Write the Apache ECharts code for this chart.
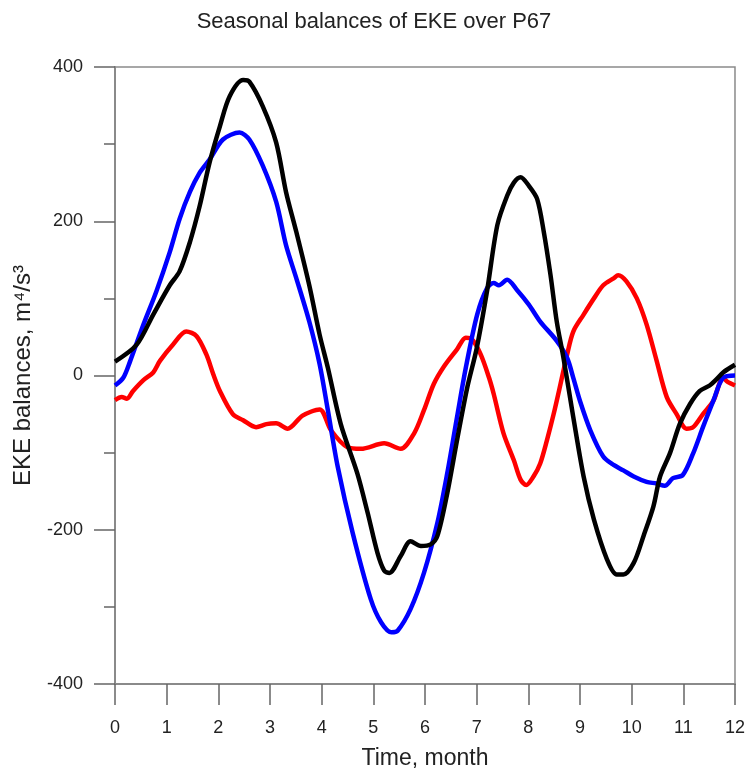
<!DOCTYPE html>
<html>
<head>
<meta charset="utf-8">
<script src="https://cdn.jsdelivr.net/npm/echarts@6/dist/echarts.min.js"></script>
<style>html,body{margin:0;padding:0;background:#fff;}#c{width:748px;height:775px;}</style>
</head>
<body>
<div id="c"></div>
<script>
// Tick values
const xTicks = [0,1,2,3,4,5,6,7,8,9,10,11,12];
const yTicks = [-400,-200,0,200,400];

// Black series
const blackX = [0,0.42,0.74,1.06,1.25,1.45,1.64,1.83,2.03,2.22,2.48,2.60,2.86,3.12,3.31,3.51,3.76,3.96,4.12,4.37,4.69,4.89,5.08,5.21,5.31,5.53,5.72,5.92,6.11,6.24,6.43,6.62,6.82,7.00,7.20,7.40,7.59,7.72,7.85,8.01,8.17,8.30,8.43,8.55,8.68,8.87,9.07,9.27,9.52,9.71,9.84,10.04,10.23,10.42,10.55,10.74,10.93,11.13,11.32,11.51,11.64,11.77,12];
const blackY = [18,40,79,117,135,173,220,276,323,362,383,381,349,302,238,186,117,53,10,-63,-127,-178,-230,-253,-256,-234,-215,-221,-219,-208,-153,-84,-15,35,109,195,233,250,257,246,229,186,130,70,23,-54,-131,-187,-238,-258,-258,-243,-208,-170,-131,-101,-63,-37,-20,-13,-5,4,14];

// Blue series
const blueX = [0,0.16,0.29,0.55,0.80,1.06,1.25,1.45,1.64,1.83,2.09,2.41,2.60,2.86,3.12,3.31,3.51,3.76,3.96,4.12,4.31,4.60,4.95,5.15,5.35,5.47,5.72,5.98,6.24,6.43,6.62,6.79,7.01,7.20,7.33,7.43,7.59,7.78,8.01,8.23,8.55,8.75,8.87,9.00,9.20,9.45,9.65,9.84,10.04,10.29,10.48,10.64,10.80,10.99,11.19,11.38,11.58,11.77,12];
const blueY = [-13,-3,18,66,109,160,203,238,263,280,306,315,306,272,225,169,126,70,15,-45,-118,-204,-290,-320,-333,-331,-303,-256,-191,-127,-54,10,79,113,120,117,124,111,92,70,45,23,-3,-33,-71,-105,-116,-123,-131,-138,-140,-143,-133,-129,-101,-67,-33,-3,0];

// Red series
const redX = [0,0.13,0.23,0.35,0.55,0.74,0.87,1.12,1.38,1.58,1.77,1.90,2.03,2.28,2.48,2.73,2.93,3.12,3.34,3.63,3.96,4.18,4.50,4.76,5.21,5.53,5.79,5.98,6.17,6.37,6.62,6.79,6.91,7.08,7.24,7.33,7.52,7.72,7.85,7.96,8.10,8.23,8.36,8.49,8.62,8.75,8.87,9.07,9.27,9.45,9.65,9.74,9.90,10.10,10.29,10.48,10.68,10.87,11.06,11.19,11.38,11.58,11.77,11.85,12];
const redY = [-32,-28,-30,-20,-6,4,19,40,57,51,27,2,-20,-50,-58,-67,-63,-62,-69,-52,-44,-71,-93,-95,-88,-95,-75,-45,-11,12,34,49,47,27,-3,-24,-75,-110,-135,-142,-131,-114,-84,-50,-12,27,57,79,100,117,126,130,122,100,66,20,-28,-50,-69,-67,-50,-33,-3,-8,-13];

const pairs = (xs, ys) => xs.map((x, i) => [x, ys[i]]);

const axisCol = '#8a8a8a';
const txtCol = '#222';
const font = 'Liberation Sans, Arial, sans-serif';

const chart = echarts.init(document.getElementById('c'), null, {renderer: 'canvas'});
chart.setOption({
  animation: false,
  backgroundColor: '#fff',
  title: {
    text: 'Seasonal balances of EKE over P67',
    left: 'center', top: 6,
    textStyle: {fontFamily: font, fontSize: 22, fontWeight: 'normal', color: txtCol}
  },
  grid: {
    left: 115, right: 11, top: 67, bottom: 86,
    show: true, borderColor: axisCol, borderWidth: 1.5, backgroundColor: 'transparent'
  },
  xAxis: {
    type: 'value', min: xTicks[0], max: xTicks[xTicks.length - 1], interval: 1,
    name: 'Time, month', nameLocation: 'middle', nameGap: 63,
    nameTextStyle: {fontFamily: font, fontSize: 23, color: txtCol},
    axisLine: {show: true, onZero: false, lineStyle: {color: axisCol, width: 2}},
    axisTick: {show: true, inside: false, length: 21, lineStyle: {color: '#666', width: 1.5}},
    axisLabel: {margin: 35, fontFamily: font, fontSize: 18, color: txtCol},
    splitLine: {show: false}
  },
  yAxis: {
    type: 'value', min: yTicks[0], max: yTicks[yTicks.length - 1], interval: 200,
    name: 'EKE balances, m\u2074/s\u00B3', nameLocation: 'middle', nameGap: 80, nameRotate: 90,
    nameTextStyle: {fontFamily: font, fontSize: 24, color: txtCol},
    axisLine: {show: true, onZero: false, lineStyle: {color: axisCol, width: 2}},
    axisTick: {show: true, inside: false, length: 21, lineStyle: {color: '#666', width: 1.5}},
    minorTick: {show: true, splitNumber: 2, length: 11, lineStyle: {color: '#666', width: 1.5}},
    axisLabel: {margin: 32, fontFamily: font, fontSize: 18, color: txtCol},
    splitLine: {show: false}, minorSplitLine: {show: false}
  },
  series: [
    {type: 'line', name: 'red', data: pairs(redX, redY), showSymbol: false, smooth: 0.3,
     lineStyle: {color: '#ff0000', width: 4.5}, itemStyle: {color: '#ff0000'}, z: 2},
    {type: 'line', name: 'blue', data: pairs(blueX, blueY), showSymbol: false, smooth: 0.3,
     lineStyle: {color: '#0000ff', width: 4.5}, itemStyle: {color: '#0000ff'}, z: 3},
    {type: 'line', name: 'black', data: pairs(blackX, blackY), showSymbol: false, smooth: 0.3,
     lineStyle: {color: '#000000', width: 4.5}, itemStyle: {color: '#000000'}, z: 4}
  ]
});
</script>
</body>
</html>
